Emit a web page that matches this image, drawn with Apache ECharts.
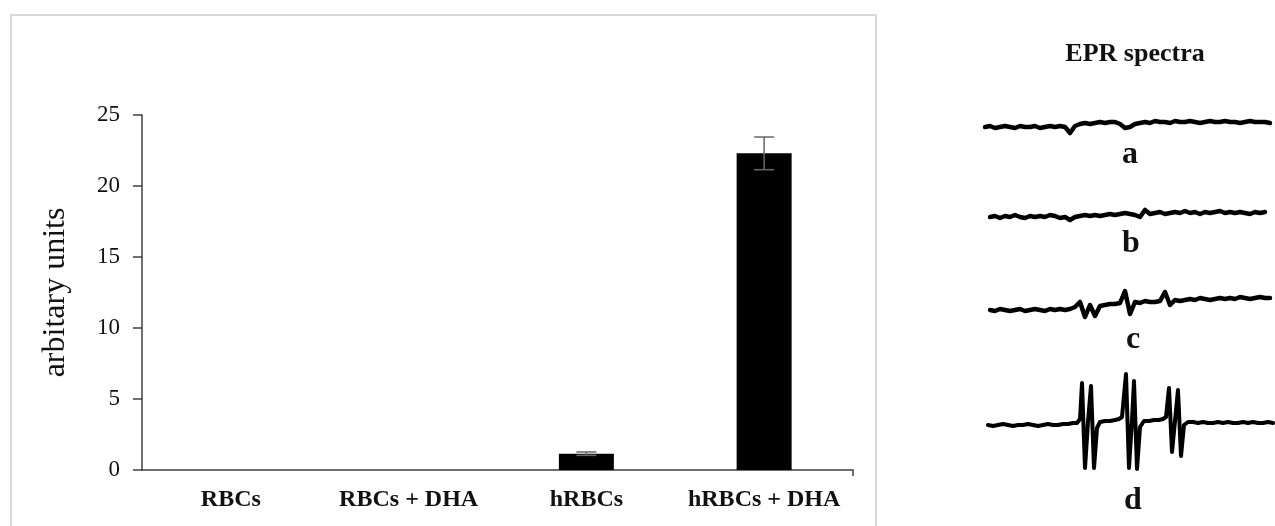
<!DOCTYPE html>
<html><head><meta charset="utf-8">
<script src="https://cdn.jsdelivr.net/npm/echarts@6/dist/echarts.min.js"></script>
<style>html,body{margin:0;padding:0;background:#fff}#c{width:1275px;height:526px}</style>
</head><body><div id="c"></div>
<script>
// ---- bar chart data ----
const categories = ['RBCs', 'RBCs + DHA', 'hRBCs', 'hRBCs + DHA'];
const values = [0, 0, 1.15, 22.3];
const errors = [0, 0, 0.12, 1.15];
const yName = 'arbitary units';

// ---- EPR spectra (signal deviations) ----
const spectraTitle = 'EPR spectra';
const traceLabels = ['a', 'b', 'c', 'd'];
const specAStart = 0, specStep = 5;
const specA = [-2,-1,-3,-2,-1,-2,-3,-1,-2,-2,-1,-3,-2,-1,-2,-1,-2,
  -8,-1,1,2,1,2,3,2,3,3,1,-3,-2,1,
  2,3,2,4,3,3,2,4,3,3,4,3,2,3,4,3,3,4,3,3,2,3,4,3,3,3,2];
const specBStart = 5;
const specB = [-2,-1,-3,-1,-2,0,-2,-3,-1,-2,-1,-2,0,-1,-3,-2,-5,-2,-1,0,-1,0,-1,
  0,1,0,1,2,1,0,-2,5,1,
  2,3,1,2,3,2,4,2,3,1,3,2,3,4,2,3,2,3,2,1,3,2,3];
const specCStart = 5;
const specC = [-5,-6,-4,-5,-6,-5,-4,-6,-5,-4,-5,-6,-4,-5,-4,-5,-4,
  -2,3,-12,0,-11,-1,0,1,1,2,14,-9,3,2,4,3,3,4,13,0,5,4,
  5,6,5,7,6,5,6,7,6,7,6,8,7,6,7,8,7,7];
const specDx = [3,8,13,18,23,28,33,38,43,48,53,58,63,68,73,78,83,88,
  92,95,97,100,103,106,109,112,115,120,125,130,134,137,141,144,147,149,152,155,159,164,169,174,178,181,184,187,190,193,196,199,203,
  208,213,218,223,228,233,238,243,248,253,258,263,268,273,278,283,288];
const specDy = [0,-1,0,1,0,-1,0,0,1,0,-1,0,1,0,0,1,1,2,
  2,6,42,-43,3,39,-43,-3,3,4,4,5,6,8,51,-43,5,44,-44,-2,4,4,5,5,6,8,37,-27,4,35,-31,0,3,
  3,2,3,2,2,3,2,3,2,2,3,2,3,2,2,3,2];

const serif = 'Liberation Serif';
const axisColor = '#404040';

// plot geometry (styles / layout)
const g0 = {left: 142, top: 115, right: 422, bottom: 56};
const specOffsets = [375, 285, 195, 75];

function series2(start, step, arr, off) {
  return arr.map((v, i) => [start + i * step, off + v]);
}

const chart = echarts.init(document.getElementById('c'));
const traceStyle = {color: '#000', width: 4.5, cap: 'round', join: 'round'};

chart.setOption({
  animation: false,
  backgroundColor: '#fff',
  grid: [
    {left: g0.left, top: g0.top, right: g0.right, bottom: g0.bottom},
    {left: 985, top: 100, width: 290, height: 400}
  ],
  xAxis: [
    {
      type: 'category', data: categories, gridIndex: 0,
      axisLine: {lineStyle: {color: axisColor, width: 1.5}},
      axisTick: {alignWithLabel: true, length: 6, lineStyle: {color: axisColor, width: 1.5}},
      axisLabel: {interval: 0, fontFamily: serif, fontWeight: 'bold', fontSize: 24, color: '#111', margin: 18}
    },
    {type: 'value', gridIndex: 1, min: 0, max: 290, show: false}
  ],
  yAxis: [
    {
      type: 'value', gridIndex: 0, min: 0, max: 25, interval: 5,
      name: yName, nameLocation: 'middle', nameGap: 70, nameRotate: 90,
      nameTextStyle: {fontFamily: serif, fontSize: 32, color: '#111'},
      axisLine: {show: true, lineStyle: {color: axisColor, width: 1.5}},
      axisTick: {show: true, length: 9, lineStyle: {color: axisColor, width: 1.5}},
      axisLabel: {fontFamily: serif, fontSize: 23, color: '#111', margin: 22},
      splitLine: {show: false}
    },
    {type: 'value', gridIndex: 1, min: 0, max: 400, show: false}
  ],
  series: [
    {
      type: 'bar', data: values, xAxisIndex: 0, yAxisIndex: 0,
      barWidth: 55, itemStyle: {color: '#000'}
    },
    {
      type: 'custom', xAxisIndex: 0, yAxisIndex: 0, z: 5,
      data: values.map((v, i) => [i, v - errors[i], v + errors[i], errors[i]]),
      renderItem: function (params, api) {
        if (api.value(3) <= 0) return null;
        const lo = api.coord([api.value(0), api.value(1)]);
        const hi = api.coord([api.value(0), api.value(2)]);
        const w = 10;
        const st = {stroke: '#666', lineWidth: 1.5};
        return {type: 'group', children: [
          {type: 'line', shape: {x1: hi[0], y1: hi[1], x2: lo[0], y2: lo[1]}, style: st},
          {type: 'line', shape: {x1: hi[0] - w, y1: hi[1], x2: hi[0] + w, y2: hi[1]}, style: st},
          {type: 'line', shape: {x1: lo[0] - w, y1: lo[1], x2: lo[0] + w, y2: lo[1]}, style: st}
        ]};
      }
    },
    {type: 'line', xAxisIndex: 1, yAxisIndex: 1, showSymbol: false, lineStyle: traceStyle,
      data: series2(specAStart, specStep, specA, specOffsets[0])},
    {type: 'line', xAxisIndex: 1, yAxisIndex: 1, showSymbol: false, lineStyle: traceStyle,
      data: series2(specBStart, specStep, specB, specOffsets[1])},
    {type: 'line', xAxisIndex: 1, yAxisIndex: 1, showSymbol: false, lineStyle: traceStyle,
      data: series2(specCStart, specStep, specC, specOffsets[2])},
    {type: 'line', xAxisIndex: 1, yAxisIndex: 1, showSymbol: false,
      lineStyle: {color: '#000', width: 4, join: 'round', cap: 'round'},
      data: specDx.map((x, i) => [x, specOffsets[3] + specDy[i]])}
  ],
  graphic: [
    {type: 'rect', shape: {x: 11, y: 15, width: 865, height: 530},
      style: {fill: 'none', stroke: '#d9d9d9', lineWidth: 2}, silent: true},
    {type: 'line', shape: {x1: 1275 - g0.right, y1: 526 - g0.bottom, x2: 1275 - g0.right, y2: 526 - g0.bottom + 6},
      style: {stroke: axisColor, lineWidth: 1.5}},
    {type: 'text', x: 1135, y: 54, style: {text: spectraTitle, font: 'bold 26px "Liberation Serif"', fill: '#111', textAlign: 'center', textVerticalAlign: 'middle'}},
    {type: 'text', x: 1130, y: 155, style: {text: traceLabels[0], font: 'bold 32px "Liberation Serif"', fill: '#111', textAlign: 'center', textVerticalAlign: 'middle'}},
    {type: 'text', x: 1131, y: 244, style: {text: traceLabels[1], font: 'bold 32px "Liberation Serif"', fill: '#111', textAlign: 'center', textVerticalAlign: 'middle'}},
    {type: 'text', x: 1133, y: 340, style: {text: traceLabels[2], font: 'bold 32px "Liberation Serif"', fill: '#111', textAlign: 'center', textVerticalAlign: 'middle'}},
    {type: 'text', x: 1133, y: 501, style: {text: traceLabels[3], font: 'bold 32px "Liberation Serif"', fill: '#111', textAlign: 'center', textVerticalAlign: 'middle'}}
  ]
});
</script>
</body></html>
